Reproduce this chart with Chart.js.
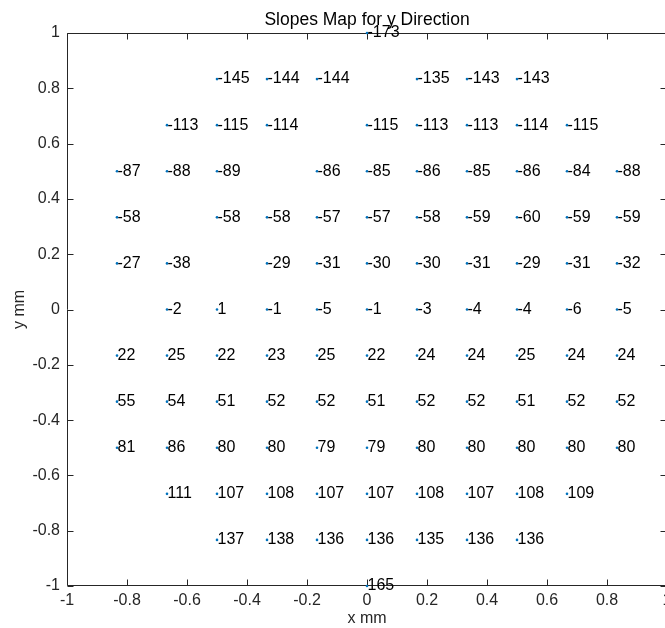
<!DOCTYPE html>
<html>
<head>
<meta charset="utf-8">
<script src="https://cdn.jsdelivr.net/npm/chart.js@4.4.1/dist/chart.umd.min.js"></script>
<style>
  html, body { margin: 0; padding: 0; background: #fff; overflow: hidden; }
  #wrap { width: 680px; height: 628px; }
</style>
</head>
<body>
<div id="wrap"><canvas id="slopes-chart"></canvas></div>
<script>
// grid positions (mm)
const xLevels = [-5/6, -4/6, -3/6, -2/6, -1/6, 0, 1/6, 2/6, 3/6, 4/6, 5/6]
const yLevels = [1, 5/6, 4/6, 3/6, 2/6, 1/6, 0, -1/6, -2/6, -3/6, -4/6, -5/6, -1]

// slope values per row, top to bottom (null = no point)
const rowP100 = [null, null, null, null, null, -173, null, null, null, null, null]
const rowP083 = [null, null, -145, -144, -144, null, -135, -143, -143, null, null]
const rowP067 = [null, -113, -115, -114, null, -115, -113, -113, -114, -115, null]
const rowP050 = [-87, -88, -89, null, -86, -85, -86, -85, -86, -84, -88]
const rowP033 = [-58, null, -58, -58, -57, -57, -58, -59, -60, -59, -59]
const rowP017 = [-27, -38, null, -29, -31, -30, -30, -31, -29, -31, -32]
const rowZero = [null, -2, 1, -1, -5, -1, -3, -4, -4, -6, -5]
const rowM017 = [22, 25, 22, 23, 25, 22, 24, 24, 25, 24, 24]
const rowM033 = [55, 54, 51, 52, 52, 51, 52, 52, 51, 52, 52]
const rowM050 = [81, 86, 80, 80, 79, 79, 80, 80, 80, 80, 80]
const rowM067 = [null, 111, 107, 108, 107, 107, 108, 107, 108, 109, null]
const rowM083 = [null, null, 137, 138, 136, 136, 135, 136, 136, null, null]
const rowM100 = [null, null, null, null, null, 165, null, null, null, null, null]

const xTickLabels = ['-1', '-0.8', '-0.6', '-0.4', '-0.2', '0', '0.2', '0.4', '0.6', '0.8', '1']
const yTickLabels = ['-1', '-0.8', '-0.6', '-0.4', '-0.2', '0', '0.2', '0.4', '0.6', '0.8', '1']

const rows = [rowP100, rowP083, rowP067, rowP050, rowP033, rowP017, rowZero,
              rowM017, rowM033, rowM050, rowM067, rowM083, rowM100]

let points = []
rows.forEach((row, r) => {
    row.forEach((val, c) => {
        if (val !== null) points.push({x: xLevels[c], y: yLevels[r], label: String(val)})
    })
})

const axisColor = '#262626'
const fontFamily = '"Liberation Sans", Arial, sans-serif'
const tickLen = 6

// MATLAB style box with inward ticks on all four sides
const boxPlugin = {
    id: 'box',
    beforeDatasetsDraw(chart) {
        const {ctx, chartArea: a, scales} = chart
        const L = Math.round(a.left) + 0.5, R = Math.round(a.right) - 0.5
        const T = Math.round(a.top) + 0.5, B = Math.round(a.bottom) - 0.5
        ctx.save()
        ctx.strokeStyle = axisColor
        ctx.lineWidth = 1
        ctx.beginPath()
        ctx.rect(L, T, R - L, B - T)
        scales.x.ticks.forEach(t => {
            const px = Math.round(scales.x.getPixelForValue(t.value)) + 0.5
            ctx.moveTo(px, B); ctx.lineTo(px, B - tickLen)
            ctx.moveTo(px, T); ctx.lineTo(px, T + tickLen)
        })
        scales.y.ticks.forEach(t => {
            const py = Math.round(scales.y.getPixelForValue(t.value)) + 0.5
            ctx.moveTo(L, py); ctx.lineTo(L + tickLen, py)
            ctx.moveTo(R, py); ctx.lineTo(R - tickLen, py)
        })
        ctx.stroke()
        ctx.restore()
    }
}

// value text next to each point
const labelPlugin = {
    id: 'pointLabels',
    afterDatasetsDraw(chart) {
        const {ctx} = chart
        const meta = chart.getDatasetMeta(0)
        ctx.save()
        ctx.fillStyle = '#000'
        ctx.font = '16px ' + fontFamily
        ctx.textAlign = 'left'
        ctx.textBaseline = 'middle'
        meta.data.forEach((el, i) => {
            ctx.fillText(points[i].label, el.x + 0.5, el.y)
        })
        ctx.restore()
    }
}

const ctx = document.getElementById('slopes-chart')
const myChart = new Chart(ctx, {
    type: 'scatter',
    data: {
        datasets: [{
            label: 'slopes',
            data: points,
            backgroundColor: '#0072BD',
            borderWidth: 0,
            pointRadius: 1.3,
            clip: false
        }]
    },
    options: {
        responsive: true,
        maintainAspectRatio: false,
        animation: false,
        events: [],
        layout: {
            padding: {left: 0, right: 13, top: 0, bottom: 0}
        },
        scales: {
            x: {
                type: 'linear',
                min: -1,
                max: 1,
                afterFit: s => { s.height = 42 },
                grid: {display: false, drawTicks: false},
                border: {display: false},
                ticks: {
                    stepSize: 0.2,
                    padding: 5,
                    color: axisColor,
                    maxRotation: 0,
                    autoSkip: false,
                    font: {family: fontFamily, size: 16},
                    callback: (v, i) => xTickLabels[i]
                },
                title: {
                    display: true,
                    text: 'x mm',
                    color: axisColor,
                    padding: {top: 0, bottom: 0},
                    font: {family: fontFamily, size: 16}
                }
            },
            // top axis only carries the title so it centres over the plot box
            xTop: {
                type: 'linear',
                position: 'top',
                min: -1,
                max: 1,
                afterFit: s => { s.height = 33 },
                grid: {display: false, drawTicks: false},
                border: {display: false},
                ticks: {display: false},
                title: {
                    display: true,
                    text: 'Slopes Map for y Direction',
                    color: '#000',
                    padding: {top: 9.5, bottom: 0},
                    font: {family: fontFamily, size: 17.5}
                }
            },
            y: {
                type: 'linear',
                min: -1,
                max: 1,
                afterFit: s => { s.width = 67 },
                grid: {display: false, drawTicks: false},
                border: {display: false},
                ticks: {
                    stepSize: 0.2,
                    padding: 7,
                    color: axisColor,
                    autoSkip: false,
                    font: {family: fontFamily, size: 16},
                    callback: (v, i) => yTickLabels[i]
                },
                title: {
                    display: true,
                    text: 'y mm',
                    color: axisColor,
                    padding: {top: 10, bottom: 0},
                    font: {family: fontFamily, size: 16}
                }
            }
        },
        plugins: {
            legend: {display: false},
            tooltip: {enabled: false}
        }
    },
    plugins: [boxPlugin, labelPlugin]
})
</script>
</body>
</html>
